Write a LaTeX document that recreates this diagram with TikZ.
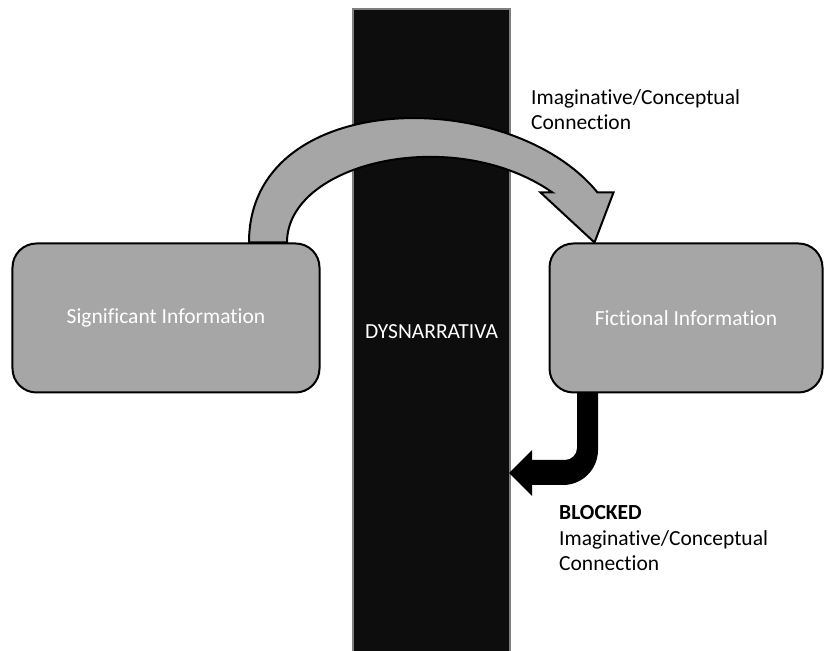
\documentclass[tikz,border=0pt]{standalone}
\usepackage{fontspec}
\setmainfont{Carlito}[Ligatures=NoCommon]
\definecolor{panelgray}{HTML}{A6A6A6}
\definecolor{wallblack}{HTML}{0D0D0D}
\definecolor{walledge}{HTML}{7F7F7F}
\tikzset{
  infobox/.style={rectangle, rounded corners=24bp, draw=black, line width=2bp, fill=panelgray,
                  text=white, align=center, font=\fontsize{21.5bp}{25.5bp}\selectfont,
                  minimum width=307bp, minimum height=149bp},
  caption/.style={font=\fontsize{21.5bp}{25.5bp}\selectfont, align=left, inner sep=0pt, text=black},
  blockarrow/.style={draw=black, line width=2bp, fill=panelgray, line join=miter},
}

\begin{document}
\begin{tikzpicture}[x=1bp, y=1bp]
  % Styles
  \tikzset{
    wall/.style={rectangle, fill=wallblack, text=white, minimum width=157bp, minimum height=646bp,
      font=\fontsize{21.5bp}{25.5bp}\selectfont, inner sep=0pt},
    blocked/.style={fill=black}
  }
  \useasboundingbox (0,0) rectangle (825,651);

  % ----- The wall in the middle -----
  \node[wall] (wall) at (431.5,319) {DYSNARRATIVA};
  \draw[walledge, line width=2bp] (wall.south west) -- (wall.north west) -- (wall.north east) -- (wall.south east);

  % ----- Blocked connection (drawn under the box) -----
  \coordinate (fsw) at (549,258);
  \fill[blocked] ([shift={(28bp,5bp)}]fsw) -- ++(21,0) -- ++(0,-62)
    arc[start angle=0, end angle=-90, radius=35] -- ++(-31,0) -- ++(0,-11)
    -- ++(-23,23) -- ++(23,23) -- ++(0,-10) -- ++(33,0)
    arc[start angle=-90, end angle=0, radius=12] -- cycle;

  % ----- Information boxes -----
  \node[infobox] (sig) at (166,333) {\raisebox{-3bp}{Significant Information}};
  \node[infobox, minimum width=273bp] (fic) at (686,333) {\raisebox{-3bp}{Fictional Information}};

  % ----- Curved connection over the wall -----
  \draw[blockarrow] ([xshift=83bp]sig.north) .. controls +(0,155) and +(-87.5,107.5) .. ([shift={(49bp,50bp)}]fic.north west)
    -- ++(16,0) -- ([xshift=46bp]fic.north west) -- ([shift={(-8bp,50bp)}]fic.north west) -- ++(12,0)
    .. controls +(-99,69) and +(0,80) .. ([xshift=121bp]sig.north) -- cycle;

  % ----- Labels -----
  \node[caption, anchor=base west] (linklabel) at (531,521) {Imaginative/Conceptual\\Connection};
  \node[caption, anchor=base west] (blocklabel) at (559,80) {\textbf{BLOCKED}\\Imaginative/Conceptual\\Connection};

\end{tikzpicture}
\end{document}
